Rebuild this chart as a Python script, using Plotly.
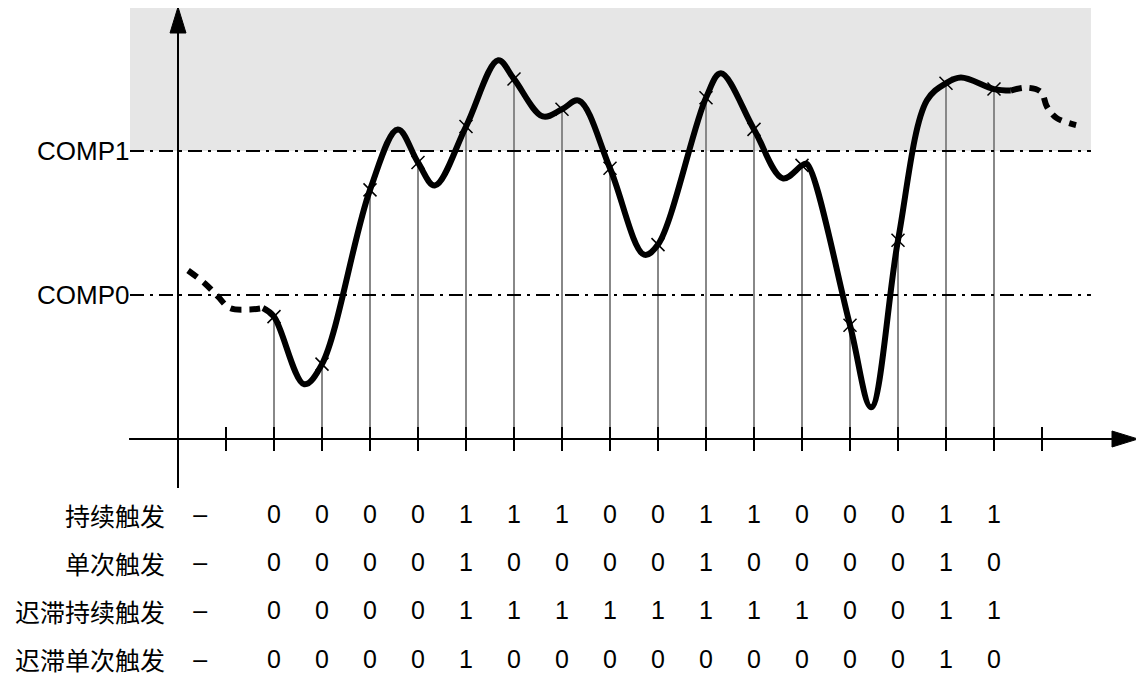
import plotly.graph_objects as go

# signal levels: x-axis = 0, COMP0 = 1, COMP1 = 2 ; x in sample-tick units
comp_levels = [1, 2]
comp_labels = ["COMP0", "COMP1"]

tick_x = list(range(1, 19))

sample_x = list(range(2, 18))
sample_y = [0.85, 0.52, 1.73, 1.92, 2.17, 2.50, 2.29, 1.88,
            1.35, 2.37, 2.15, 1.90, 0.79, 1.38, 2.47, 2.43]

# solid waveform (samples plus turning points between them)
wave_x = [1.77, 2, 2.63, 3, 4, 4.58, 5, 5.35, 6, 6.67, 7, 7.6, 8,
          8.35, 9, 9.71, 10, 11, 11.31, 12, 12.6, 13, 13.1, 14, 14.44,
          15, 15.6, 16, 16.31, 17, 17.35]
wave_y = [0.91, 0.85, 0.38, 0.52, 1.73, 2.15, 1.92, 1.76, 2.17, 2.63,
          2.50, 2.24, 2.29, 2.35, 1.88, 1.28, 1.35, 2.37, 2.54, 2.15, 1.81, 1.90,
          1.91, 0.79, 0.22, 1.38, 2.35, 2.47, 2.51, 2.43, 2.42]

# dashed lead-in and tail
lead_x = [0.21, 0.56, 0.83, 1.08, 1.5, 1.77]
lead_y = [1.17, 1.08, 0.99, 0.91, 0.90, 0.91]
tail_x = [17.35, 17.67, 17.98, 18.1, 18.3, 18.71]
tail_y = [2.42, 2.44, 2.41, 2.31, 2.23, 2.18]

row_labels = ["持续触发", "单次触发", "迟滞持续触发", "迟滞单次触发"]
row_values = [
    [0, 0, 0, 0, 1, 1, 1, 0, 0, 1, 1, 0, 0, 0, 1, 1],
    [0, 0, 0, 0, 1, 0, 0, 0, 0, 1, 0, 0, 0, 0, 1, 0],
    [0, 0, 0, 0, 1, 1, 1, 1, 1, 1, 1, 1, 0, 0, 1, 1],
    [0, 0, 0, 0, 1, 0, 0, 0, 0, 0, 0, 0, 0, 0, 1, 0],
]
row_y = [-0.54, -0.875, -1.21, -1.545]

# pixel scale: 48 px per x unit, 144 px per y unit; page body adds an 8px offset
PX_X = 48.0
PX_Y = 144.0
OFF = 8
FONT = "Liberation Sans, Arial, Noto Sans CJK SC, sans-serif"

fig = go.Figure()

# stems from axis to sampled value
stem_x, stem_y = [], []
for sx, sy in zip(sample_x, sample_y):
    stem_x += [sx, sx, None]
    stem_y += [0, sy, None]
fig.add_trace(go.Scatter(x=stem_x, y=stem_y, mode="lines",
                         line=dict(color="#888888", width=2), hoverinfo="skip"))

# axis ticks
tk_x, tk_y = [], []
for t in tick_x:
    tk_x += [t, t, None]
    tk_y += [12 / PX_Y, -12 / PX_Y, None]
fig.add_trace(go.Scatter(x=tk_x, y=tk_y, mode="lines",
                         line=dict(color="black", width=2), hoverinfo="skip"))

fig.add_trace(go.Scatter(x=lead_x, y=lead_y, mode="lines",
                         line=dict(color="black", width=6, shape="spline", dash="11px,8px")))
fig.add_trace(go.Scatter(x=tail_x, y=tail_y, mode="lines",
                         line=dict(color="black", width=6, shape="spline", dash="11px,8px")))
fig.add_trace(go.Scatter(x=wave_x, y=wave_y, mode="lines",
                         line=dict(color="black", width=6, shape="spline")))
fig.add_trace(go.Scatter(x=sample_x, y=sample_y, mode="markers",
                         marker=dict(symbol="x-thin", size=13,
                                     line=dict(color="black", width=1.5))))

# table
for label, vals, ry in zip(row_labels, row_values, row_y):
    fig.add_annotation(x=-0.23, y=ry, text=label, showarrow=False, xanchor="right",
                       font=dict(family=FONT, size=25, color="black"))
    fig.add_trace(go.Scatter(x=[0.46] + sample_x, y=[ry] * (len(vals) + 1),
                             mode="text", text=["–"] + [str(v) for v in vals],
                             textfont=dict(family=FONT, size=25, color="black")))

for lvl, lab in zip(comp_levels, comp_labels):
    fig.add_annotation(x=-0.98, y=lvl, text=lab, showarrow=False, xanchor="right",
                       font=dict(family=FONT, size=26, color="black"))

shapes = [
    dict(type="rect", x0=-1, x1=19.02, y0=2, y1=3.0, fillcolor="#e6e6e6",
         line=dict(width=0), layer="below"),
]
for lvl in comp_levels:
    shapes.append(dict(type="line", x0=-1, x1=19.02, y0=lvl, y1=lvl,
                       line=dict(color="black", width=2, dash="14px,6px,3px,6px")))

# axes with arrow heads
y_top, y_head = 3.0, 26 / PX_Y
x_end, x_head = 20.0, 26 / PX_X
hw_x, hw_y = 8 / PX_X, 8 / PX_Y
shapes += [
    dict(type="line", x0=0, x1=0, y0=-49 / PX_Y, y1=y_top - y_head,
         line=dict(color="black", width=2)),
    dict(type="path", path=f"M {-hw_x} {y_top - y_head} L 0 {y_top} L {hw_x} {y_top - y_head} Z",
         fillcolor="black", line=dict(color="black", width=1)),
    dict(type="line", x0=-1.02, x1=x_end - x_head, y0=0, y1=0,
         line=dict(color="black", width=2)),
    dict(type="path", path=f"M {x_end - x_head} {hw_y} L {x_end} 0 L {x_end - x_head} {-hw_y} Z",
         fillcolor="black", line=dict(color="black", width=1)),
]

fig.update_layout(
    width=1144 - OFF, height=675 - OFF,
    margin=dict(l=0, r=0, t=0, b=0),
    paper_bgcolor="white", plot_bgcolor="white",
    showlegend=False, shapes=shapes,
    xaxis=dict(range=[(OFF - 178) / PX_X, (1144 - 178) / PX_X], visible=False, fixedrange=True),
    yaxis=dict(range=[(439 - 675) / PX_Y, (439 - OFF) / PX_Y], visible=False, fixedrange=True),
)

fig.write_html("out.html")
